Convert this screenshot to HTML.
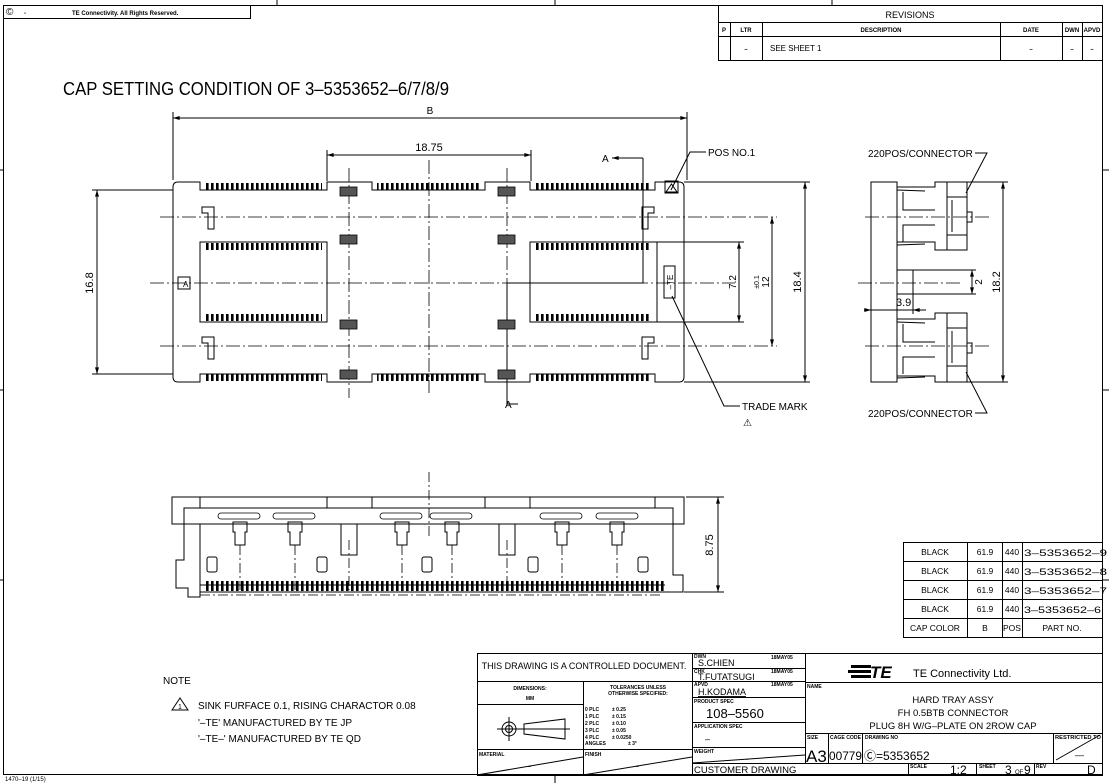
<!DOCTYPE html>
<html><head><meta charset="utf-8"><style>
html,body{margin:0;padding:0;background:#fff;}
svg{display:block;font-family:"Liberation Sans",sans-serif;}
</style></head><body>
<svg width="1109" height="783" viewBox="0 0 1109 783" xmlns="http://www.w3.org/2000/svg">
<defs>
<pattern id="tt" width="5" height="10" patternUnits="userSpaceOnUse"><rect x="1" y="0" width="2.6" height="10" fill="#000"/></pattern>
<marker id="ar" viewBox="0 0 10 6" refX="10" refY="3" markerWidth="8" markerHeight="4" orient="auto-start-reverse"><path d="M0,0L10,3L0,6z" fill="#000"/></marker>
</defs>
<g fill="none" stroke="#000" stroke-width="1">
<rect x="3.5" y="5.5" width="1099" height="769"/>
<line x1="277" y1="0" x2="277" y2="5"/><line x1="555" y1="0" x2="555" y2="5"/><line x1="832" y1="0" x2="832" y2="5"/>
<line x1="555" y1="775" x2="555" y2="783"/>
<line x1="0" y1="170" x2="3" y2="170"/><line x1="0" y1="390" x2="3" y2="390"/><line x1="0" y1="580" x2="3" y2="580"/>
<line x1="1102" y1="170" x2="1109" y2="170"/><line x1="1102" y1="390" x2="1109" y2="390"/><line x1="1102" y1="580" x2="1109" y2="580"/>
<rect x="3.5" y="5.5" width="247" height="13"/>
<rect x="718.5" y="5.5" width="384" height="55"/>
<line x1="718" y1="22.5" x2="1102" y2="22.5"/>
<line x1="718" y1="36.5" x2="1102" y2="36.5"/>
<line x1="730.5" y1="23" x2="730.5" y2="60"/><line x1="762.5" y1="23" x2="762.5" y2="60"/>
<line x1="1000.5" y1="23" x2="1000.5" y2="60"/><line x1="1062.5" y1="23" x2="1062.5" y2="60"/><line x1="1082.5" y1="23" x2="1082.5" y2="60"/>
</g>
<g font-size="6" font-weight="bold">
<text x="6" y="15" font-size="10" font-weight="normal">©</text>
<text x="24" y="15">-</text>
<text x="72" y="15">TE Connectivity. All Rights Reserved.</text>
<text x="910" y="18" font-size="9" font-weight="normal" text-anchor="middle">REVISIONS</text>
<text x="724" y="32" text-anchor="middle">P</text><text x="746" y="32" text-anchor="middle">LTR</text>
<text x="881" y="32" text-anchor="middle">DESCRIPTION</text><text x="1031" y="32" text-anchor="middle">DATE</text>
<text x="1072" y="32" text-anchor="middle">DWN</text><text x="1092" y="32" text-anchor="middle">APVD</text>
<text x="746" y="51" text-anchor="middle">–</text><text x="770" y="51" font-size="8" font-weight="normal">SEE SHEET 1</text>
<text x="1031" y="51" text-anchor="middle">–</text><text x="1072" y="51" text-anchor="middle">–</text><text x="1092" y="51" text-anchor="middle">–</text>
</g>
<text x="63" y="95" font-size="18" textLength="386" lengthAdjust="spacingAndGlyphs">CAP SETTING CONDITION OF 3–5353652–6/7/8/9</text>

<g fill="none" stroke="#000" stroke-width="1">
<path d="M178,182 H200 V190 H327 V182 H372 V190 H485 V182 H530 V190 H655 V182 H679 Q684,182 684,187 V377 Q684,382 679,382 H655 V374 H530 V382 H485 V374 H372 V382 H327 V374 H200 V382 H178 Q173,382 173,377 V187 Q173,182 178,182 Z"/>
<rect x="200" y="242" width="127" height="80"/>
<rect x="530" y="242" width="127" height="80"/>
<line x1="173" y1="118" x2="687" y2="118" marker-start="url(#ar)" marker-end="url(#ar)"/>
<line x1="173" y1="112" x2="173" y2="180"/><line x1="687" y1="112" x2="687" y2="180"/>
<line x1="327" y1="155" x2="531" y2="155" marker-start="url(#ar)" marker-end="url(#ar)"/>
<line x1="327" y1="150" x2="327" y2="181"/><line x1="531" y1="150" x2="531" y2="181"/>
<line x1="97" y1="190" x2="97" y2="374" marker-start="url(#ar)" marker-end="url(#ar)"/>
<line x1="92" y1="190" x2="173" y2="190"/><line x1="92" y1="374" x2="173" y2="374"/>
<line x1="739" y1="242" x2="739" y2="322" marker-start="url(#ar)" marker-end="url(#ar)"/>
<line x1="657" y1="242" x2="744" y2="242"/><line x1="657" y1="322" x2="744" y2="322"/>
<line x1="772" y1="217" x2="772" y2="346" marker-start="url(#ar)" marker-end="url(#ar)"/>
<line x1="805" y1="182" x2="805" y2="382" marker-start="url(#ar)" marker-end="url(#ar)"/>
<line x1="684" y1="182" x2="810" y2="182"/><line x1="684" y1="382" x2="810" y2="382"/>
<g stroke-dasharray="14,3,2,3" stroke-width="0.8">
<line x1="160" y1="217" x2="777" y2="217"/><line x1="150" y1="283" x2="735" y2="283"/><line x1="160" y1="346" x2="777" y2="346"/>
<line x1="349" y1="168" x2="349" y2="398"/><line x1="429" y1="160" x2="429" y2="393"/><line x1="507" y1="168" x2="507" y2="283"/>
</g>
<polyline points="643,158 643,283 507,283 507,404 518,404"/>
<line x1="612" y1="158" x2="643" y2="158" marker-start="url(#ar)"/>
<rect x="178" y="277" width="12" height="12"/>
<rect x="665" y="181" width="13" height="12"/>
<path d="M666,192 L671.5,184 L677,192 Z"/>
<rect x="664" y="266" width="11" height="32"/>
<polyline points="706,152 690,152 671,190"/>
<polyline points="740,406 724,406 672,296"/>
</g>
<g>
<rect x="205" y="183" width="117" height="7" fill="url(#tt)"/>
<rect x="377" y="183" width="103" height="7" fill="url(#tt)"/>
<rect x="535" y="183" width="115" height="7" fill="url(#tt)"/>
<rect x="205" y="243" width="117" height="7" fill="url(#tt)"/>
<rect x="535" y="243" width="115" height="7" fill="url(#tt)"/>
<rect x="205" y="314" width="117" height="7" fill="url(#tt)"/>
<rect x="535" y="314" width="115" height="7" fill="url(#tt)"/>
<rect x="205" y="374" width="117" height="7" fill="url(#tt)"/>
<rect x="377" y="374" width="103" height="7" fill="url(#tt)"/>
<rect x="535" y="374" width="115" height="7" fill="url(#tt)"/>
<g fill="#555" stroke="#000" stroke-width="0.8">
<rect x="340" y="187" width="17" height="9"/><rect x="340" y="235" width="17" height="9"/><rect x="340" y="320" width="17" height="9"/><rect x="340" y="370" width="17" height="9"/>
<rect x="498" y="187" width="17" height="9"/><rect x="498" y="235" width="17" height="9"/><rect x="498" y="320" width="17" height="9"/><rect x="498" y="370" width="17" height="9"/>
</g>
<g fill="none" stroke="#000" stroke-width="1">
<path d="M202,207 H214 V229 H208 V213 H202 Z"/><path d="M202,337 H214 V359 H208 V343 H202 Z"/>
<path d="M654,207 H642 V229 H648 V213 H654 Z"/><path d="M654,337 H642 V359 H648 V343 H654 Z"/>
</g>
</g>
<g font-size="10">
<text x="430" y="114" text-anchor="middle">B</text>
<text x="429" y="151" text-anchor="middle" font-size="11">18.75</text>
<text x="602" y="162" font-size="10">A</text>
<text x="505" y="408" font-size="10">A</text>
<text x="183" y="287" font-size="8">A</text>
<text x="708" y="156" font-size="10">POS NO.1</text>
<text x="742" y="410" font-size="10">TRADE  MARK</text>
<text x="743" y="426" font-size="10">⚠</text>
<text transform="translate(673,282) rotate(-90)" font-size="8" text-anchor="middle">–TE</text>
<text transform="translate(93,283) rotate(-90)" font-size="11" text-anchor="middle">16.8</text>
<text transform="translate(736,282) rotate(-90)" font-size="10" text-anchor="middle">7.2</text>
<text transform="translate(769,282) rotate(-90)" font-size="10" text-anchor="middle">12</text>
<text transform="translate(759,282) rotate(-90)" font-size="7" text-anchor="middle">±0.1</text>
<text transform="translate(801,282) rotate(-90)" font-size="11" text-anchor="middle">18.4</text>
</g>

<g fill="none" stroke="#000" stroke-width="1">
<rect x="871" y="182" width="26" height="200"/>
<path d="M897,187 H935 V182 H967 V250 H935 V242 H897"/>
<path d="M947,182 V250 M947,197 H967 M947,235 H967 M952,200 V232"/>
<path d="M903,192 V210 H935 M903,242 V225 H935"/>
<path d="M897,190 L925,191 M897,245 L925,244"/>
<path d="M967,212 H972 V222 H967"/>
<path d="M897,319 H935 V313 H967 V382 H935 V376 H897"/>
<path d="M947,313 V382 M947,328 H967 M947,366 H967 M952,331 V363"/>
<path d="M903,324 V342 H935 M903,374 V357 H935"/>
<path d="M897,322 L925,323 M897,378 L925,377"/>
<path d="M967,343 H972 V353 H967"/>
<rect x="897" y="270" width="16" height="24"/>
<line x1="913" y1="270" x2="976" y2="270"/><line x1="913" y1="294" x2="976" y2="294"/>
<line x1="972" y1="270" x2="972" y2="294" marker-start="url(#ar)" marker-end="url(#ar)"/>
<line x1="913" y1="294" x2="913" y2="314"/>
<line x1="864" y1="310" x2="871" y2="310" marker-end="url(#ar)"/>
<line x1="871" y1="310" x2="913" y2="310"/>
<line x1="926" y1="310" x2="913" y2="310" marker-end="url(#ar)"/>
<line x1="1003" y1="182" x2="1003" y2="382" marker-start="url(#ar)" marker-end="url(#ar)"/>
<line x1="967" y1="182" x2="1008" y2="182"/><line x1="967" y1="382" x2="1008" y2="382"/>
<g stroke-dasharray="14,3,2,3" stroke-width="0.8">
<line x1="865" y1="217" x2="990" y2="217"/><line x1="858" y1="283" x2="960" y2="283"/><line x1="865" y1="346" x2="990" y2="346"/>
</g>
<polyline points="975,153 987,153 966,193"/>
<polyline points="975,413 987,413 966,372"/>
</g>
<g font-size="10">
<text x="868" y="157">220POS/CONNECTOR</text>
<text x="868" y="417">220POS/CONNECTOR</text>
<text x="896" y="306" font-size="11">3.9</text>
<text transform="translate(982,282) rotate(-90)" font-size="10" text-anchor="middle">2</text>
<text transform="translate(1000,282) rotate(-90)" font-size="11" text-anchor="middle">18.2</text>
</g>

<g fill="none" stroke="#000" stroke-width="1">
<rect x="172" y="497" width="512" height="27"/>
<path d="M200,497 V508 M327,497 V508 M372,497 V508 M485,497 V508 M530,497 V508 M655,497 V508"/>
<path d="M184,524 V508 H673 V524"/>
<path d="M184,524 V560 H176 V588 H188 V597 H200 V588 M200,524 V592 H665"/>
<path d="M673,524 V575 H683 V592 H665"/>
<rect x="341" y="524" width="16" height="31" fill="#fff"/>
<rect x="499" y="524" width="16" height="31" fill="#fff"/>
<g stroke-width="0.8">
<rect x="218" y="513" width="42" height="6" rx="3"/><rect x="273" y="513" width="42" height="6" rx="3"/>
<rect x="380" y="513" width="42" height="6" rx="3"/><rect x="430" y="513" width="42" height="6" rx="3"/>
<rect x="540" y="513" width="42" height="6" rx="3"/><rect x="596" y="513" width="42" height="6" rx="3"/>
</g>
<g>
<path d="M233,522 H247 V532 H245 V545 H235 V532 H233 Z"/>
<path d="M288,522 H302 V532 H300 V545 H290 V532 H288 Z"/>
<path d="M395,522 H409 V532 H407 V545 H397 V532 H395 Z"/>
<path d="M445,522 H459 V532 H457 V545 H447 V532 H445 Z"/>
<path d="M555,522 H569 V532 H567 V545 H557 V532 H555 Z"/>
<path d="M610,522 H624 V532 H622 V545 H612 V532 H610 Z"/>
<rect x="207" y="557" width="10" height="15" rx="2"/><rect x="317" y="557" width="10" height="15" rx="2"/>
<rect x="422" y="557" width="10" height="15" rx="2"/><rect x="528" y="557" width="10" height="15" rx="2"/>
<rect x="638" y="557" width="10" height="15" rx="2"/>
</g>
<g stroke-dasharray="10,3,2,3" stroke-width="0.8">
<line x1="240" y1="545" x2="240" y2="590"/><line x1="295" y1="545" x2="295" y2="590"/>
<line x1="402" y1="545" x2="402" y2="590"/><line x1="452" y1="545" x2="452" y2="590"/>
<line x1="562" y1="545" x2="562" y2="590"/><line x1="617" y1="545" x2="617" y2="590"/>
<line x1="349" y1="540" x2="349" y2="590"/><line x1="507" y1="540" x2="507" y2="590"/>
<line x1="429" y1="472" x2="429" y2="538"/>
<line x1="200" y1="595" x2="660" y2="595"/>
</g>
<line x1="718" y1="497" x2="718" y2="592" marker-start="url(#ar)" marker-end="url(#ar)"/>
<line x1="686" y1="497" x2="724" y2="497"/><line x1="684" y1="592" x2="724" y2="592"/>
</g>
<rect x="204" y="581" width="460" height="10" fill="url(#tt)"/>
<line x1="200" y1="585" x2="665" y2="585" stroke="#000"/>
<text transform="translate(713,545) rotate(-90)" font-size="11" text-anchor="middle">8.75</text>

<g fill="none" stroke="#000" stroke-width="1">
<rect x="903.5" y="542.5" width="199" height="95"/>
<line x1="903" y1="561.5" x2="1102" y2="561.5"/><line x1="903" y1="580.5" x2="1102" y2="580.5"/>
<line x1="903" y1="599.5" x2="1102" y2="599.5"/><line x1="903" y1="618.5" x2="1102" y2="618.5"/>
<line x1="967.5" y1="542" x2="967.5" y2="637"/><line x1="1002.5" y1="542" x2="1002.5" y2="637"/><line x1="1022.5" y1="542" x2="1022.5" y2="637"/>
</g>
<g font-size="8.5">
<g text-anchor="middle">
<text x="935" y="555">BLACK</text><text x="935" y="574">BLACK</text><text x="935" y="593">BLACK</text><text x="935" y="612">BLACK</text><text x="935" y="631">CAP  COLOR</text>
<text x="985" y="555">61.9</text><text x="985" y="574">61.9</text><text x="985" y="593">61.9</text><text x="985" y="612">61.9</text><text x="985" y="631">B</text>
<text x="1012" y="555">440</text><text x="1012" y="574">440</text><text x="1012" y="593">440</text><text x="1012" y="612">440</text><text x="1012" y="631">POS</text>
<text x="1062" y="631">PART  NO.</text>
</g>
<g font-size="9.5">
<text x="1024" y="556" textLength="83" lengthAdjust="spacingAndGlyphs">3–5353652–9</text><text x="1024" y="575" textLength="83" lengthAdjust="spacingAndGlyphs">3–5353652–8</text><text x="1024" y="594" textLength="83" lengthAdjust="spacingAndGlyphs">3–5353652–7</text><text x="1024" y="613" textLength="77" lengthAdjust="spacingAndGlyphs">3–5353652–6</text>
</g>
</g>

<g font-size="10">
<text x="163" y="684">NOTE</text>
<path d="M172,710 L180,698 L188,710 Z" fill="none" stroke="#000"/>
<text x="178" y="709" font-size="7">1</text>
<text x="198" y="709">SINK  FURFACE  0.1,  RISING  CHARACTOR  0.08</text>
<text x="198" y="726">'–TE'  MANUFACTURED  BY  TE  JP</text>
<text x="198" y="742">'–TE–'  MANUFACTURED  BY  TE  QD</text>
<text x="5" y="781" font-size="6">1470–19  (1/15)</text>
</g>

<g fill="none" stroke="#000" stroke-width="1">
<rect x="477.5" y="653.5" width="625" height="122"/>
<line x1="477" y1="681.5" x2="692" y2="681.5"/>
<line x1="583.5" y1="681" x2="583.5" y2="775"/>
<line x1="477" y1="704.5" x2="583" y2="704.5"/>
<line x1="477" y1="749.5" x2="692" y2="749.5"/>
<line x1="692.5" y1="653" x2="692.5" y2="775"/>
<line x1="805.5" y1="653" x2="805.5" y2="763"/>
<line x1="692" y1="668.5" x2="805" y2="668.5"/><line x1="692" y1="681.5" x2="805" y2="681.5"/>
<line x1="692" y1="697.5" x2="805" y2="697.5"/><line x1="692" y1="722.5" x2="805" y2="722.5"/>
<line x1="692" y1="747.5" x2="805" y2="747.5"/><line x1="692" y1="763.5" x2="1102" y2="763.5"/>
<line x1="805" y1="682.5" x2="1102" y2="682.5"/><line x1="805" y1="733.5" x2="1102" y2="733.5"/>
<line x1="828.5" y1="733" x2="828.5" y2="763"/><line x1="862.5" y1="733" x2="862.5" y2="763"/><line x1="1053.5" y1="733" x2="1053.5" y2="763"/>
<line x1="908.5" y1="763" x2="908.5" y2="775"/><line x1="976.5" y1="763" x2="976.5" y2="775"/><line x1="1034.5" y1="763" x2="1034.5" y2="775"/>
<line x1="477" y1="775" x2="583" y2="757"/><line x1="583" y1="775" x2="692" y2="757"/>
<line x1="692" y1="763" x2="805" y2="755"/><line x1="1056" y1="760" x2="1100" y2="735"/>
<circle cx="509" cy="729" r="7"/><circle cx="509" cy="729" r="3.5"/>
<line x1="497" y1="729" x2="570" y2="729"/><line x1="509" y1="717" x2="509" y2="741"/>
<path d="M524,724 L565,719 V739 L524,734 Z"/>
</g>
<g font-size="5" font-weight="bold">
<text x="584" y="669" font-size="9" font-weight="normal" text-anchor="middle">THIS DRAWING IS A CONTROLLED DOCUMENT.</text>
<text x="530" y="690" text-anchor="middle">DIMENSIONS:</text><text x="530" y="700" text-anchor="middle">MM</text>
<text x="638" y="689" text-anchor="middle">TOLERANCES UNLESS</text><text x="638" y="695" text-anchor="middle">OTHERWISE SPECIFIED:</text>
<text x="585" y="711">0 PLC</text><text x="612" y="711">± 0.25</text>
<text x="585" y="718">1 PLC</text><text x="612" y="718">± 0.15</text>
<text x="585" y="725">2 PLC</text><text x="612" y="725">± 0.10</text>
<text x="585" y="732">3 PLC</text><text x="612" y="732">± 0.05</text>
<text x="585" y="739">4 PLC</text><text x="612" y="739">± 0.0250</text>
<text x="585" y="745">ANGLES</text><text x="628" y="745">± 3°</text>
<text x="479" y="756">MATERIAL</text><text x="585" y="756">FINISH</text>
<text x="528" y="768" font-weight="normal">–</text><text x="636" y="768" font-weight="normal">–</text>
<text x="694" y="658">DWN</text><text x="771" y="659">18MAY05</text>
<text x="694" y="673">CHK</text><text x="771" y="673">18MAY05</text>
<text x="694" y="686">APVD</text><text x="771" y="686">18MAY05</text>
<text x="694" y="703">PRODUCT SPEC</text><text x="694" y="728">APPLICATION SPEC</text>
<text x="694" y="753">WEIGHT</text>
<text x="807" y="688">NAME</text>
<text x="807" y="739">SIZE</text><text x="830" y="739" textLength="31" lengthAdjust="spacingAndGlyphs">CAGE CODE</text><text x="865" y="739">DRAWING NO</text><text x="1055" y="739" textLength="46" lengthAdjust="spacingAndGlyphs">RESTRICTED TO</text>
<text x="910" y="768">SCALE</text><text x="979" y="768">SHEET</text><text x="1036" y="768">REV</text>
</g>
<g font-size="9">
<text x="698" y="666">S.CHIEN</text>
<text x="698" y="680" text-decoration="underline">T.FUTATSUGI</text>
<text x="698" y="695" text-decoration="underline">H.KODAMA</text>
<text x="706" y="718" font-size="13">108–5560</text>
<text x="705" y="742">–</text>
<text x="746" y="760" font-size="8">.</text>
<text x="694" y="773" font-size="9.5">CUSTOMER  DRAWING</text>
<text x="913" y="677" font-size="11">TE  Connectivity  Ltd.</text>
<text x="953" y="703" text-anchor="middle" font-size="9.5">HARD  TRAY  ASSY</text>
<text x="953" y="716" text-anchor="middle" font-size="9.5">FH  0.5BTB  CONNECTOR</text>
<text x="953" y="729" text-anchor="middle" font-size="9.5">PLUG  8H  W/G–PLATE  ON  2ROW  CAP</text>
<text x="806" y="762" font-size="17">A3</text>
<text x="829" y="760" font-size="12" textLength="33" lengthAdjust="spacingAndGlyphs">00779</text>
<text x="864" y="760" font-size="12">Ⓒ=5353652</text>
<text x="1075" y="758">—</text>
<text x="950" y="774" font-size="12">1:2</text>
<text x="1005" y="774" font-size="12">3</text><text x="1015" y="774" font-size="6">OF</text><text x="1024" y="774" font-size="12">9</text>
<text x="1087" y="774" font-size="12">D</text>
</g>
<g fill="#000">
<rect x="851" y="665" width="20" height="3"/><rect x="848" y="670" width="23" height="3"/><rect x="851" y="675" width="20" height="3"/>
<text x="870" y="678" font-size="17" font-weight="bold" font-style="italic">TE</text>
</g>
</svg>
</body></html>
